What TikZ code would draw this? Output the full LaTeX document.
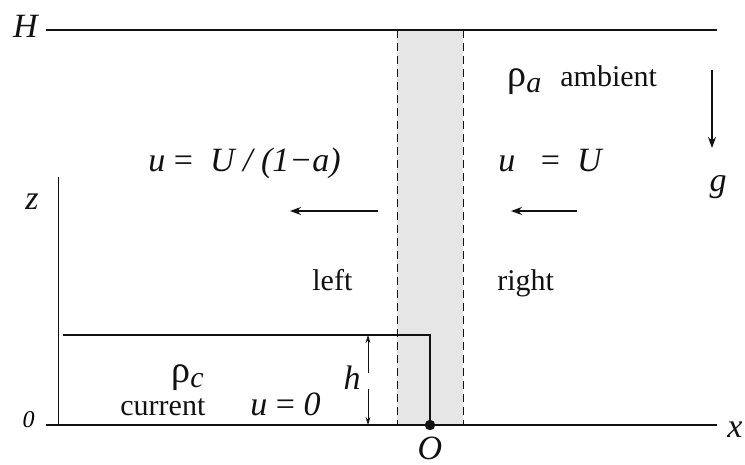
\documentclass[tikz,border=0pt]{standalone}
\usepackage{fontspec}
\setmainfont{Liberation Serif}
\usepackage{xcolor}
\usetikzlibrary{positioning,arrows.meta}
\definecolor{ink}{HTML}{111111}
\definecolor{stripc}{HTML}{E6E6E6}

\begin{document}
\begin{tikzpicture}[
  x=0.5pt, y=-0.5pt,
  every node/.style={inner sep=0pt},
  lbl/.style={font=\fontsize{15}{18}\selectfont, color=ink},
  sym/.style={font=\fontsize{17}{20}\selectfont\itshape, color=ink},
  rho/.style={font=\fontsize{19}{22}\selectfont, color=ink},
  wall/.style={draw=ink, line width=1.1pt},
  fine/.style={draw=ink, line width=0.5pt},
  flow/.style={->, >={Stealth[length=5.5pt,width=4pt]}, draw=ink, line width=1pt},
  dim/.style={->, >={Stealth[length=4pt,width=2.4pt]}, draw=ink, line width=0.4pt}
]
\useasboundingbox (0,0) rectangle (745,465);

% Mixing strip
\fill[stripc] (397,30) rectangle (463,425);
\draw[fine, dash pattern=on 4pt off 2.5pt] (397,30) -- (397,425);
\draw[fine, dash pattern=on 4pt off 2.5pt] (463,30) -- (463,425);

% Lid and floor
\coordinate (lidL) at (46,30);
\coordinate (lidR) at (717,30);
\coordinate (floorL) at (46,425);
\coordinate (floorR) at (717,425);
\draw[wall] (lidL) -- (lidR);
\draw[wall] (floorL) -- (floorR);
\node[sym, anchor=east] (Hlab) at (38,26) {H};
\node[font=\fontsize{12}{14}\selectfont\itshape, anchor=east] (zero) at (35,420) {0};
\node[sym] (xlab) at (735,430) {x};

% z axis
\coordinate (zbot) at (58,425);
\coordinate (ztop) at (58,177);
\draw[fine] (zbot) -- (ztop);
\node[sym] (zlab) at (32,202) {z};

% Current
\coordinate (front) at (430,425);
\draw[fine, line width=0.7pt] (63,335) -- (430,335) -- (front);
\fill[ink] (front) circle (2.6pt);
\node[sym, anchor=north] (Olab) at (430,437) {O};
\node[rho, anchor=base west] (rhoc) at (171,382) {ρ\textsubscript{\fontsize{15}{18}\selectfont\textit{c}}};
\node[lbl, anchor=base west] (curlab) at (120,415) {current};
\node[sym, anchor=base west] (ucur) at (250,415) {u {\upshape=} 0};

% Depth h
\coordinate (hTop) at (368,335);
\coordinate (hBot) at (368,425);
\node[sym] (hlab) at (352,378) {h};
\draw[dim] (368,373) -- (hTop);
\draw[dim] (368,389) -- (hBot);

% Flow, left and right
\node[sym, anchor=base west] (uleft) at (148,171) {u {\upshape=}\ \ U / (1−a)};
\node[sym, anchor=base west] (uright) at (498,171) {u\ \ \ {\upshape=}\ \ U};
\coordinate (lTail) at (378,211);
\coordinate (lHead) at (290,211);
\coordinate (rTail) at (577,211);
\coordinate (rHead) at (511,211);
\draw[flow] (lTail) -- (lHead);
\draw[flow] (rTail) -- (rHead);
\node[lbl, anchor=base west] (leftlab) at (312,290) {left};
\node[lbl, anchor=base west] (rightlab) at (497,290) {right};

% Ambient and gravity
\node[rho, anchor=base west] (rhoa) at (507,87) {ρ\textsubscript{\fontsize{15}{18}\selectfont\textit{a}}};
\node[lbl, anchor=base west] (amblab) at (560,87) {ambient};
\coordinate (gTop) at (712,70);
\coordinate (gBot) at (712,148);
\draw[flow, line width=0.8pt] (gTop) -- (gBot);
\node[sym] (glab) at (718,187) {g};

\end{tikzpicture}
\end{document}
